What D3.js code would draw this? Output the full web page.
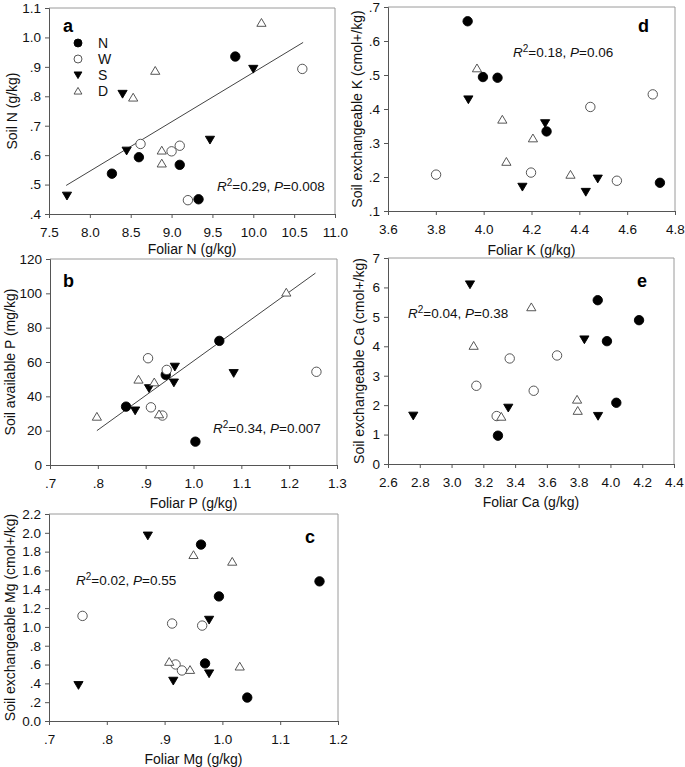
<!DOCTYPE html>
<html><head><meta charset="utf-8">
<script src="https://cdn.jsdelivr.net/npm/d3@7"></script>
<style>
body{margin:0;background:#fff;}
svg{display:block;font-family:"Liberation Sans",Arial,sans-serif;}
</style></head>
<body>
<svg id="chart" width="685" height="767"></svg>
<script>
// ---------- DATA ----------
const groups = ["N","W","S","D"];
// Panel a: Foliar N vs Soil N
const aN = [[9.78,0.935],[8.27,0.537],[8.60,0.593],[9.10,0.567],[9.33,0.450]];
const aW = [[10.6,0.893],[8.62,0.638],[9.00,0.613],[9.10,0.632],[9.20,0.447]];
const aS = [[7.72,0.462],[8.40,0.808],[8.45,0.615],[9.47,0.652],[10.0,0.893]];
const aD = [[10.1,1.05],[8.80,0.887],[8.53,0.796],[8.88,0.616],[8.88,0.572]];
const aLine = [[7.71,0.497],[10.61,0.983]];
const aXTicks = [7.5,8.0,8.5,9.0,9.5,10.0,10.5,11.0];
const aXLabels = ["7.5","8.0","8.5","9.0","9.5","10.0","10.5","11.0"];
const aYTicks = [0.4,0.5,0.6,0.7,0.8,0.9,1.0,1.1];
const aYLabels = [".4",".5",".6",".7",".8",".9","1.0","1.1"];
// Panel b: Foliar P vs Soil available P
const bN = [[0.859,34.0],[0.942,52.5],[1.054,72.3],[1.004,13.6]];
const bW = [[0.905,62.2],[0.944,55.4],[0.911,33.6],[0.935,28.8],[1.257,54.3]];
const bS = [[0.878,31.7],[0.907,44.7],[0.961,57.2],[0.959,48.0],[1.084,53.5]];
const bD = [[0.798,28.2],[0.885,49.8],[0.918,48.2],[0.928,29.6],[1.194,100.5]];
const bLine = [[0.798,20.0],[1.255,111.8]];
const bXTicks = [0.7,0.8,0.9,1.0,1.1,1.2,1.3];
const bXLabels = [".7",".8",".9","1.0","1.1","1.2","1.3"];
const bYTicks = [0,20,40,60,80,100,120];
const bYLabels = ["0","20","40","60","80","100","120"];
// Panel c: Foliar Mg vs Soil exchangeable Mg
const cN = [[0.963,1.875],[1.168,1.484],[0.994,1.324],[0.970,0.612],[1.043,0.249]];
const cW = [[0.758,1.117],[0.913,1.036],[0.965,1.014],[0.919,0.601],[0.930,0.537]];
const cS = [[0.871,1.97],[0.977,1.075],[0.751,0.381],[0.915,0.427],[0.977,0.505]];
const cD = [[0.950,1.765],[1.017,1.694],[0.908,0.630],[0.944,0.544],[1.030,0.580]];
const cXTicks = [0.7,0.8,0.9,1.0,1.1,1.2];
const cXLabels = [".7",".8",".9","1.0","1.1","1.2"];
const cYTicks = [0,0.2,0.4,0.6,0.8,1.0,1.2,1.4,1.6,1.8,2.0,2.2];
const cYLabels = ["0.0",".2",".4",".6",".8","1.0","1.2","1.4","1.6","1.8","2.0","2.2"];
// Panel d: Foliar K vs Soil exchangeable K
const dN = [[3.933,0.658],[3.997,0.494],[4.058,0.492],[4.263,0.334],[4.737,0.183]];
const dW = [[3.801,0.207],[4.198,0.213],[4.446,0.406],[4.707,0.443],[4.557,0.189]];
const dS = [[3.936,0.428],[4.257,0.358],[4.162,0.171],[4.427,0.156],[4.477,0.195]];
const dD = [[3.972,0.520],[4.078,0.369],[4.095,0.245],[4.206,0.314],[4.363,0.207]];
const dXTicks = [3.6,3.8,4.0,4.2,4.4,4.6,4.8];
const dXLabels = ["3.6","3.8","4.0","4.2","4.4","4.6","4.8"];
const dYTicks = [0.1,0.2,0.3,0.4,0.5,0.6,0.7];
const dYLabels = [".1",".2",".3",".4",".5",".6",".7"];
// Panel e: Foliar Ca vs Soil exchangeable Ca
const eN = [[3.920,5.566],[4.180,4.887],[3.978,4.174],[4.037,2.081],[3.292,0.962]];
const eW = [[3.366,3.586],[3.664,3.688],[3.156,2.658],[3.517,2.489],[3.284,1.629]];
const eS = [[3.116,6.10],[3.836,4.23],[3.357,1.91],[2.759,1.64],[3.922,1.63]];
const eD = [[3.502,5.33],[3.139,4.02],[3.790,2.19],[3.794,1.81],[3.313,1.61]];
const eXTicks = [2.6,2.8,3.0,3.2,3.4,3.6,3.8,4.0,4.2,4.4];
const eXLabels = ["2.6","2.8","3.0","3.2","3.4","3.6","3.8","4.0","4.2","4.4"];
const eYTicks = [0,1,2,3,4,5,6,7];
const eYLabels = ["0","1","2","3","4","5","6","7"];

// ---------- DRAWING ----------
const svg = d3.select("#chart");

function symbolPath(g, size){
  const s = size || 1;
  if (g === "S") return `M${-4.6*s},${-3.6*s}L${4.6*s},${-3.6*s}L0,${4.2*s}Z`;
  if (g === "D") return `M${-4.6*s},${3.6*s}L${4.6*s},${3.6*s}L0,${-4.2*s}Z`;
  return null;
}
function drawSymbol(sel, g, x, y, size){
  const s = size || 1;
  if (g === "N" || g === "W") {
    sel.append("circle").attr("cx",x).attr("cy",y).attr("r",4.7*s)
      .attr("fill", g==="N" ? "#000" : "#fff")
      .attr("stroke", g==="N" ? "#000" : "#444").attr("stroke-width",0.9);
  } else {
    sel.append("path").attr("transform",`translate(${x},${y})`).attr("d",symbolPath(g,s))
      .attr("fill", g==="S" ? "#000" : "#fff")
      .attr("stroke", g==="S" ? "#000" : "#444").attr("stroke-width",0.9);
  }
}

function panel(cfg){
  const x = d3.scaleLinear().domain(cfg.xdom).range([cfg.l, cfg.r]);
  const y = d3.scaleLinear().domain(cfg.ydom).range([cfg.b, cfg.t]);
  const g = svg.append("g");
  // frame top and right
  g.append("path").attr("d",`M${cfg.l},${cfg.t}H${cfg.r}V${cfg.b}`)
    .attr("fill","none").attr("stroke","#9a9a9a").attr("stroke-width",1);
  const xa = d3.axisBottom(x).tickValues(cfg.xt).tickSize(4).tickPadding(9)
    .tickFormat((d,i)=>cfg.xl[i]);
  const ya = d3.axisLeft(y).tickValues(cfg.yt).tickSize(4).tickPadding(4)
    .tickFormat((d,i)=>cfg.yl[i]);
  const gx = g.append("g").attr("transform",`translate(0,${cfg.b})`).call(xa);
  const gy = g.append("g").attr("transform",`translate(${cfg.l},0)`).call(ya);
  [gx,gy].forEach(a=>{
    a.selectAll("path.domain").attr("stroke","#555").attr("stroke-width",1);
    a.selectAll(".tick line").attr("stroke","#555");
    a.selectAll("text").attr("font-size",13.5).attr("fill","#111")
      .attr("font-family","'Liberation Sans',Arial,sans-serif");
  });
  // titles
  g.append("text").attr("x",(cfg.l+cfg.r)/2).attr("y",cfg.xty)
    .attr("text-anchor","middle").attr("dominant-baseline","central")
    .attr("font-size",14).attr("fill","#111").text(cfg.xtitle);
  g.append("text").attr("transform",`translate(${cfg.ytx},${(cfg.t+cfg.b)/2}) rotate(-90)`)
    .attr("text-anchor","middle").attr("dominant-baseline","central")
    .attr("font-size",14).attr("fill","#111").text(cfg.ytitle);
  // regression line
  if (cfg.line) {
    g.append("path").attr("d", d3.line().x(d=>x(d[0])).y(d=>y(d[1]))(cfg.line))
      .attr("stroke","#444").attr("stroke-width",1).attr("fill","none");
  }
  // points
  cfg.series.forEach((arr,i)=>{
    arr.forEach(p=>drawSymbol(g, groups[i], x(p[0]), y(p[1])));
  });
  // panel letter
  g.append("text").attr("x",cfg.lx).attr("y",cfg.ly).attr("font-size",18)
    .attr("font-weight","bold").attr("fill","#000").text(cfg.letter);
  // R2 text
  const t = g.append("text").attr("x",cfg.rx).attr("y",cfg.ry).attr("font-size",13.5).attr("fill","#111");
  t.append("tspan").attr("font-style","italic").text("R");
  t.append("tspan").attr("font-size",10).attr("dy",-5).text("2");
  t.append("tspan").attr("dy",5).text("=" + cfg.r2 + ", ");
  t.append("tspan").attr("font-style","italic").text("P");
  t.append("tspan").text("=" + cfg.p);
  return g;
}

const ga = panel({l:49,r:335,t:8,b:214,xdom:[7.5,11.0],ydom:[0.4,1.1],
  xt:aXTicks,xl:aXLabels,yt:aYTicks,yl:aYLabels,
  xtitle:"Foliar N (g/kg)",xty:249,ytitle:"Soil N (g/kg)",ytx:12,
  series:[aN,aW,aS,aD],line:aLine,letter:"a",lx:63,ly:32,
  r2:"0.29",p:"0.008",rx:217,ry:191});

const gb = panel({l:50,r:337,t:259,b:465,xdom:[0.7,1.3],ydom:[0,120],
  xt:bXTicks,xl:bXLabels,yt:bYTicks,yl:bYLabels,
  xtitle:"Foliar P (g/kg)",xty:503,ytitle:"Soil available P (mg/kg)",ytx:10,
  series:[bN,bW,bS,bD],line:bLine,letter:"b",lx:63,ly:287,
  r2:"0.34",p:"0.007",rx:213,ry:433});

const gc = panel({l:49,r:338,t:514,b:721,xdom:[0.7,1.2],ydom:[0,2.2],
  xt:cXTicks,xl:cXLabels,yt:cYTicks,yl:cYLabels,
  xtitle:"Foliar Mg (g/kg)",xty:759,ytitle:"Soil exchangeable Mg (cmol+/kg)",ytx:10,
  series:[cN,cW,cS,cD],line:null,letter:"c",lx:305,ly:543,
  r2:"0.02",p:"0.55",rx:76,ry:585});

const gd = panel({l:388,r:675,t:7,b:211,xdom:[3.6,4.8],ydom:[0.1,0.7],
  xt:dXTicks,xl:dXLabels,yt:dYTicks,yl:dYLabels,
  xtitle:"Foliar K (g/kg)",xty:250,ytitle:"Soil exchangeable K (cmol+/kg)",ytx:357,
  series:[dN,dW,dS,dD],line:null,letter:"d",lx:638,ly:32,
  r2:"0.18",p:"0.06",rx:513,ry:57});

const ge = panel({l:388,r:674,t:258,b:464,xdom:[2.6,4.4],ydom:[0,7],
  xt:eXTicks,xl:eXLabels,yt:eYTicks,yl:eYLabels,
  xtitle:"Foliar Ca (g/kg)",xty:502,ytitle:"Soil exchangeable Ca (cmol+/kg)",ytx:359,
  series:[eN,eW,eS,eD],line:null,letter:"e",lx:637,ly:287,
  r2:"0.04",p:"0.38",rx:408,ry:318});

// legend in panel a
const legRows = [43,59,75,91];
groups.forEach((gname,i)=>{
  drawSymbol(ga, gname, 78, legRows[i], 0.85);
  ga.append("text").attr("x",98).attr("y",legRows[i]).attr("dominant-baseline","central")
    .attr("font-size",14).attr("fill","#111").text(gname);
});
</script>
</body></html>
